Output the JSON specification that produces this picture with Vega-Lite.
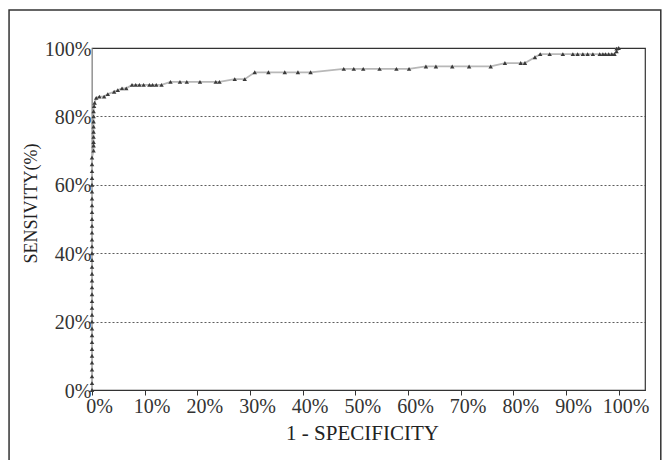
{
  "$schema": "https://vega.github.io/schema/vega-lite/v6.json",
  "autosize": "none",
  "width": 553,
  "height": 342,
  "padding": {"left": 92, "top": 48, "right": 25, "bottom": 70},
  "background": "white",
  "config": {
    "view": {"stroke": "#333333", "strokeWidth": 1.2},
    "font": "Liberation Serif"
  },
  "layer": [
    {
      "data": {
        "values": [
          {"fpr": 0, "tpr": 0}, {"fpr": 0, "tpr": 2}, {"fpr": 0, "tpr": 4}, {"fpr": 0, "tpr": 6},
          {"fpr": 0, "tpr": 8}, {"fpr": 0, "tpr": 10}, {"fpr": 0, "tpr": 12}, {"fpr": 0, "tpr": 14},
          {"fpr": 0, "tpr": 16}, {"fpr": 0, "tpr": 18}, {"fpr": 0, "tpr": 20}, {"fpr": 0, "tpr": 22},
          {"fpr": 0, "tpr": 24}, {"fpr": 0, "tpr": 26}, {"fpr": 0, "tpr": 28}, {"fpr": 0, "tpr": 30},
          {"fpr": 0, "tpr": 32}, {"fpr": 0, "tpr": 34}, {"fpr": 0, "tpr": 36}, {"fpr": 0, "tpr": 38},
          {"fpr": 0, "tpr": 40}, {"fpr": 0, "tpr": 42}, {"fpr": 0, "tpr": 44}, {"fpr": 0, "tpr": 46},
          {"fpr": 0, "tpr": 48}, {"fpr": 0, "tpr": 50}, {"fpr": 0, "tpr": 52}, {"fpr": 0, "tpr": 54},
          {"fpr": 0, "tpr": 56}, {"fpr": 0, "tpr": 58}, {"fpr": 0, "tpr": 60}, {"fpr": 0, "tpr": 62},
          {"fpr": 0, "tpr": 64}, {"fpr": 0, "tpr": 66}, {"fpr": 0, "tpr": 68},
          {"fpr": 0.3, "tpr": 70}, {"fpr": 0.3, "tpr": 71.5}, {"fpr": 0.3, "tpr": 72.5}, {"fpr": 0.3, "tpr": 74},
          {"fpr": 0.3, "tpr": 75.5}, {"fpr": 0.3, "tpr": 77}, {"fpr": 0.3, "tpr": 78.5}, {"fpr": 0.3, "tpr": 80},
          {"fpr": 0.3, "tpr": 81.5}, {"fpr": 0.4, "tpr": 83}, {"fpr": 0.5, "tpr": 84},
          {"fpr": 0.8, "tpr": 85.4}, {"fpr": 1.4, "tpr": 85.8}, {"fpr": 2.3, "tpr": 85.8}, {"fpr": 3.0, "tpr": 86.5},
          {"fpr": 4.2, "tpr": 87.2}, {"fpr": 4.9, "tpr": 87.7}, {"fpr": 5.7, "tpr": 88.2}, {"fpr": 6.5, "tpr": 88.2},
          {"fpr": 7.6, "tpr": 89.2}, {"fpr": 8.3, "tpr": 89.2}, {"fpr": 9.0, "tpr": 89.2}, {"fpr": 9.8, "tpr": 89.2},
          {"fpr": 10.9, "tpr": 89.2}, {"fpr": 11.5, "tpr": 89.2}, {"fpr": 12.2, "tpr": 89.2}, {"fpr": 13.2, "tpr": 89.2},
          {"fpr": 14.9, "tpr": 90.1}, {"fpr": 16.7, "tpr": 90.1}, {"fpr": 18.0, "tpr": 90.1}, {"fpr": 20.5, "tpr": 90.1},
          {"fpr": 23.5, "tpr": 90.1}, {"fpr": 24.2, "tpr": 90.1}, {"fpr": 27.1, "tpr": 90.9}, {"fpr": 29.0, "tpr": 90.9},
          {"fpr": 30.9, "tpr": 92.9}, {"fpr": 33.5, "tpr": 92.9}, {"fpr": 36.6, "tpr": 92.9}, {"fpr": 39.1, "tpr": 92.9},
          {"fpr": 41.5, "tpr": 92.9}, {"fpr": 47.8, "tpr": 93.9}, {"fpr": 49.7, "tpr": 93.9}, {"fpr": 51.5, "tpr": 93.9},
          {"fpr": 54.6, "tpr": 93.9}, {"fpr": 57.8, "tpr": 93.9}, {"fpr": 60.2, "tpr": 93.9}, {"fpr": 63.4, "tpr": 94.6},
          {"fpr": 65.3, "tpr": 94.6}, {"fpr": 68.4, "tpr": 94.6}, {"fpr": 71.6, "tpr": 94.6}, {"fpr": 75.7, "tpr": 94.6},
          {"fpr": 78.4, "tpr": 95.6}, {"fpr": 81.4, "tpr": 95.6}, {"fpr": 82.2, "tpr": 95.6}, {"fpr": 84.1, "tpr": 97.3},
          {"fpr": 85.1, "tpr": 98.2}, {"fpr": 86.9, "tpr": 98.2}, {"fpr": 89.4, "tpr": 98.2}, {"fpr": 91.3, "tpr": 98.2},
          {"fpr": 92.2, "tpr": 98.2}, {"fpr": 93.2, "tpr": 98.2}, {"fpr": 94.1, "tpr": 98.2}, {"fpr": 95.1, "tpr": 98.2},
          {"fpr": 96.4, "tpr": 98.2}, {"fpr": 97.0, "tpr": 98.2}, {"fpr": 97.5, "tpr": 98.2}, {"fpr": 98.1, "tpr": 98.2},
          {"fpr": 98.7, "tpr": 98.2}, {"fpr": 99.2, "tpr": 98.2}, {"fpr": 99.6, "tpr": 99.0}, {"fpr": 99.6, "tpr": 99.8},
          {"fpr": 100, "tpr": 100}
        ]
      },
      "encoding": {
        "x": {
          "field": "fpr",
          "type": "quantitative",
          "scale": {"domain": [0, 105], "nice": false},
          "axis": {
            "values": [0, 10, 20, 30, 40, 50, 60, 70, 80, 90, 100],
            "labelExpr": "datum.value + '%'",
            "grid": false,
            "labelFlush": false,
            "labelFontSize": 20,
            "labelColor": "#333333",
            "labelPadding": 1,
            "labelOffset": 7,
            "tickColor": "#333333",
            "tickSize": 5,
            "domainColor": "#333333",
            "title": "1 - SPECIFICITY",
            "titleFontSize": 21,
            "titleFontWeight": "normal",
            "titleColor": "#222222",
            "titlePadding": 6,
            "titleX": 270
          }
        },
        "y": {
          "field": "tpr",
          "type": "quantitative",
          "scale": {"domain": [0, 100], "nice": false},
          "axis": {
            "values": [0, 20, 40, 60, 80, 100],
            "labelExpr": "datum.value + '%'",
            "grid": true,
            "gridColor": "#333333",
            "gridDash": [2, 2],
            "gridWidth": 0.8,
            "ticks": false,
            "domainColor": "#999999",
            "labelFontSize": 20,
            "labelColor": "#333333",
            "labelPadding": 1,
            "labelOffset": 1,
            "title": "SENSIVITY(%)",
            "titleFontSize": 18,
            "titleFontWeight": "normal",
            "titleColor": "#222222",
            "titlePadding": 4,
            "titleY": 155
          }
        },
        "order": [{"field": "fpr"}, {"field": "tpr"}]
      },
      "layer": [
        {"mark": {"type": "line", "color": "#b8b8b8", "strokeWidth": 1.8}},
        {"mark": {"type": "point", "shape": "triangle-up", "filled": true, "size": 20, "color": "#3a3a3a", "opacity": 1}}
      ]
    },
    {
      "data": {"values": [{}]},
      "mark": {"type": "rect", "fill": "transparent", "stroke": "#333333", "strokeWidth": 1.5, "clip": false},
      "encoding": {
        "x": {"datum": -15.75, "type": "quantitative"},
        "x2": {"datum": 108.0},
        "y": {"datum": 111.1, "type": "quantitative"},
        "y2": {"datum": -25}
      }
    }
  ]
}
